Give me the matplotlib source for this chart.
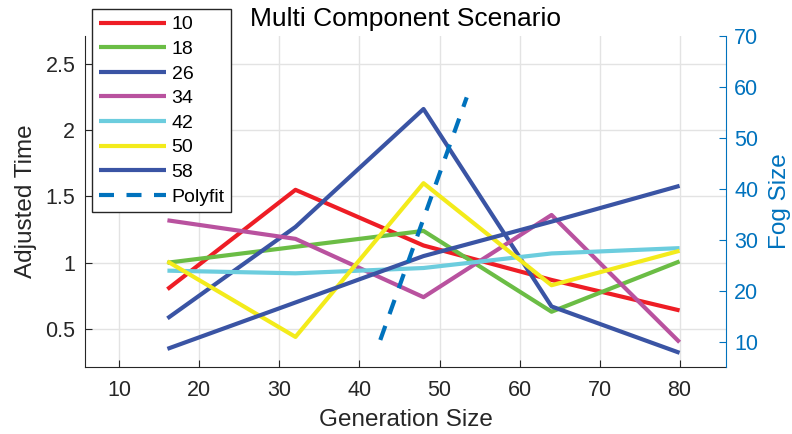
import matplotlib
matplotlib.use("Agg")
import matplotlib.pyplot as plt

plt.rcParams['font.family'] = ['Liberation Sans', 'DejaVu Sans']

# generation sizes on the x axis
gen_size = [16, 32, 48, 64, 80]

# adjusted time for each fog size
fog_labels = ["10", "18", "26", "34", "42", "50", "58"]
t_10 = [0.80, 1.55, 1.13, 0.87, 0.64]
t_18 = [1.00, 1.12, 1.24, 0.63, 1.01]
t_26 = [0.58, 1.27, 2.16, 0.67, 0.32]
t_34 = [1.32, 1.18, 0.74, 1.36, 0.40]
t_42 = [0.94, 0.92, 0.96, 1.07, 1.11]
t_50 = [1.01, 0.44, 1.60, 0.83, 1.09]
t_58 = [0.35, 0.70, 1.05, 1.31, 1.58]

# polyfit line (right axis)
fit_x = [42.6, 53.4]
fit_fog = [10.3, 57.9]

colors = ["#ee1d25", "#6bbd45", "#3a54a4", "#b9529f", "#6ccdde", "#f3eb1b", "#3a54a4"]
series = [t_10, t_18, t_26, t_34, t_42, t_50, t_58]

dark = "#262626"
blue = "#0072bd"

fig = plt.figure(figsize=(7.92, 4.34), dpi=100)
ax = fig.add_axes([85/792, 67/434, 641/792, 331.3/434])
ax2 = ax.twinx()

handles = []
for vals, c, lab in zip(series, colors, fog_labels):
    h, = ax.plot(gen_size, vals, color=c, lw=3.0, label=lab, solid_capstyle='butt')
    handles.append(h)

h, = ax2.plot(fit_x, fit_fog, color=blue, lw=3.0, linestyle=(0, (3.6, 3.0)), label="Polyfit")
handles.append(h)

ax.set_xlim(5.7, 85.8)
ax.set_ylim(0.213, 2.713)
ax2.set_ylim(5, 70)
ax.set_xticks([10, 20, 30, 40, 50, 60, 70, 80])
ax.set_yticks([0.5, 1, 1.5, 2, 2.5])
ax.set_yticklabels(["0.5", "1", "1.5", "2", "2.5"])
ax2.set_yticks([10, 20, 30, 40, 50, 60, 70])

ax.grid(True, color="#e3e3e3", lw=1.0)
ax.set_axisbelow(True)

for a in (ax, ax2):
    a.spines['top'].set_visible(False)
ax.spines['right'].set_visible(False)
ax2.spines['left'].set_visible(False)
ax2.spines['bottom'].set_visible(False)
ax.spines['left'].set_color(dark)
ax.spines['bottom'].set_color(dark)
ax2.spines['right'].set_color(blue)

ax.tick_params(axis='both', direction='in', length=5, width=0.8, color=dark,
               labelcolor=dark, labelsize=15.5)
ax.tick_params(axis='x', pad=9)
ax.tick_params(axis='y', pad=7)
ax2.tick_params(axis='y', direction='in', length=5, width=0.8, color=blue,
                labelcolor=blue, labelsize=15.5, pad=6)

ax.set_xlabel("Generation Size", fontsize=17.5, color=dark, va='center')
ax.xaxis.set_label_coords(0.5, -0.16)
ax.set_ylabel("Adjusted Time", fontsize=17.5, color=dark, va='center')
ax.yaxis.set_label_coords(-0.092, 0.5)
ax2.set_ylabel("Fog Size", fontsize=17.5, color=blue, va='center', rotation=90)
ax2.yaxis.set_label_coords(1.085, 0.5)

ax.set_title("Multi Component Scenario", fontsize=19, color="black",
             y=1.05, va='center', pad=0)

leg = ax2.legend(handles, [h.get_label() for h in handles], loc='upper left',
                 bbox_to_anchor=(92/792, 1 - 9/434), bbox_transform=fig.transFigure,
                 borderaxespad=0, fontsize=14, handlelength=3.44, handletextpad=0.3,
                 labelspacing=0.36, borderpad=0.35, fancybox=False, framealpha=1)
leg.get_frame().set_edgecolor(dark)
leg.get_frame().set_linewidth(1.0)

fig.savefig("out.png", dpi=100)
